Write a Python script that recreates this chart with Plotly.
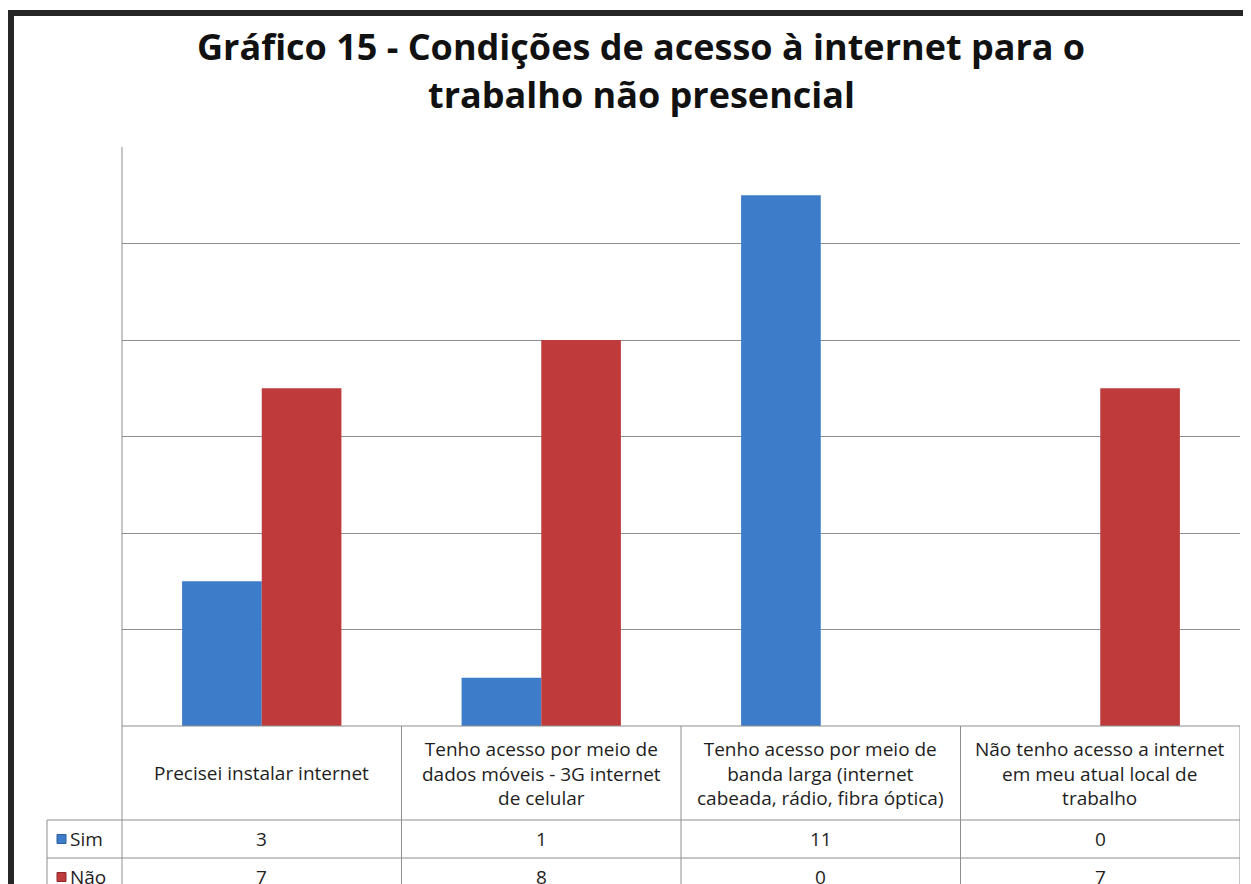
import plotly.graph_objects as go

# janela 1251x884; o <body> do html tem margem de 8px
OFF = 8
W, H = 1251 - OFF, 884 - OFF

# --- dados ---
categorias = [
    "Precisei instalar internet",
    "Tenho acesso por meio de<br>dados móveis - 3G internet<br>de celular",
    "Tenho acesso por meio de<br>banda larga (internet<br>cabeada, rádio, fibra óptica)",
    "Não tenho acesso a internet<br>em meu atual local de<br>trabalho",
]
sim = [3, 1, 11, 0]
nao = [7, 8, 0, 7]
titulo = ["Gráfico 15 - Condições de acesso à internet para o", "trabalho não presencial"]
series = [("Sim", sim, "#3d7cc9", "#2f5f9c"), ("Não", nao, "#bf3b3b", "#8e2a2a")]

FONT = "'Open Sans', Lato, sans-serif"
GRID = "#8e8e8e"
TXT = "#1e1e1e"


def px_x(p):
    return (p - OFF) / W


def px_y(p):
    return 1 - (p - OFF) / H


x0, x1 = 122, 1240      # area do gráfico (pixels da janela)
y_top, y_base = 147, 726
row1, row2 = 820, 858
leg_x = 47

fig = go.Figure()
for nome, vals, cor, borda in series:
    fig.add_trace(go.Bar(
        x=list(range(len(categorias))), y=vals, name=nome,
        marker=dict(color=cor, line=dict(color=borda, width=0)),
    ))

fig.update_layout(
    width=W, height=H,
    margin=dict(l=0, r=0, t=0, b=0),
    paper_bgcolor="white", plot_bgcolor="white",
    barmode="group", bargap=0.43, bargroupgap=0,
    showlegend=False,
    font=dict(family=FONT, color=TXT),
    xaxis=dict(domain=[px_x(x0), px_x(x1)], range=[-0.5, 3.5],
               showticklabels=False, showgrid=False, zeroline=False, fixedrange=True),
    yaxis=dict(domain=[px_y(y_base), px_y(y_top)], range=[0, 12], dtick=2,
               showticklabels=False, showgrid=True, gridcolor=GRID, gridwidth=1,
               zeroline=False, fixedrange=True),
)

shapes = []
line = dict(color=GRID, width=1)
# linha vertical esquerda do gráfico + tabela
shapes.append(dict(type="line", xref="paper", yref="paper", x0=px_x(x0), x1=px_x(x0),
                   y0=px_y(y_top), y1=0, line=line))
# linha de base e linhas da tabela
shapes.append(dict(type="line", xref="paper", yref="paper", x0=px_x(x0), x1=px_x(x1),
                   y0=px_y(y_base), y1=px_y(y_base), line=line))
for ry in (row1, row2):
    shapes.append(dict(type="line", xref="paper", yref="paper", x0=px_x(leg_x), x1=px_x(x1),
                       y0=px_y(ry), y1=px_y(ry), line=line))
shapes.append(dict(type="line", xref="paper", yref="paper", x0=px_x(leg_x), x1=px_x(leg_x),
                   y0=px_y(row1), y1=0, line=line))
# divisórias das colunas
for i in range(len(categorias)):
    shapes.append(dict(type="line", xref="x", yref="paper", x0=i + 0.5, x1=i + 0.5,
                       y0=px_y(y_base), y1=0, line=line))
# moldura preta
shapes.append(dict(type="line", xref="paper", yref="paper", x0=px_x(11), x1=px_x(11),
                   y0=px_y(10), y1=0, line=dict(color="#262626", width=6)))
shapes.append(dict(type="line", xref="paper", yref="paper", x0=px_x(8), x1=1,
                   y0=px_y(13), y1=px_y(13), line=dict(color="#262626", width=6)))

annotations = []
for linha, cy in zip(titulo, (47, 95)):
    annotations.append(dict(x=px_x(641), xref="paper", y=px_y(cy), yref="paper",
                            text=f"<b>{linha}</b>", showarrow=False,
                            font=dict(size=36, color="#111"),
                            xanchor="center", yanchor="middle"))
for i, cat in enumerate(categorias):
    annotations.append(dict(x=i, xref="x", y=px_y((y_base + row1) / 2), yref="paper",
                            text=cat, showarrow=False, font=dict(size=19, color=TXT),
                            xanchor="center", yanchor="middle", align="center"))
for (nome, vals, cor, borda), ry in zip(series, (row1, row2)):
    cy = px_y(ry + 19)
    for i, v in enumerate(vals):
        annotations.append(dict(x=i, xref="x", y=cy, yref="paper", text=str(v),
                                showarrow=False, font=dict(size=19, color=TXT),
                                xanchor="center", yanchor="middle"))
    shapes.append(dict(type="rect", xref="paper", yref="paper",
                       x0=px_x(57), x1=px_x(66), y0=cy - 4.5 / H, y1=cy + 4.5 / H,
                       fillcolor=cor, line=dict(color=borda, width=1)))
    annotations.append(dict(x=px_x(68), xref="paper", y=cy, yref="paper", text=nome,
                            showarrow=False, font=dict(size=19, color=TXT),
                            xanchor="left", yanchor="middle"))

fig.update_layout(shapes=shapes, annotations=annotations)
fig.write_html("out.html")
